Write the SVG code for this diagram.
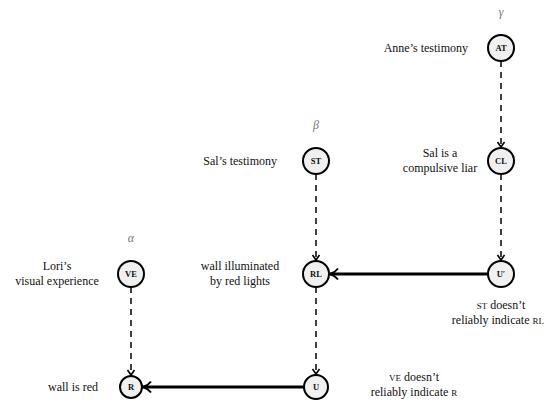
<svg xmlns="http://www.w3.org/2000/svg" width="546" height="404" viewBox="0 0 546 404" font-family="'Liberation Serif', serif">
<style>
text{font-family:'Liberation Serif',serif;fill:#111}
.lbl{font-size:12px}
.nd circle{fill:#f0f0f0;stroke:#000;stroke-width:2}
.nt{font-size:8.5px;font-weight:bold;text-anchor:middle}
.gk{font-size:12px;font-style:italic;fill:#777;text-anchor:middle}
.dash{stroke:#000;stroke-width:1.5;stroke-dasharray:6 5;fill:none}
.solid{stroke:#000;stroke-width:3;fill:none}
.sc{font-size:9px}
</style>
<defs>
<marker id="ah" markerWidth="10" markerHeight="10" refX="6" refY="5" orient="auto" markerUnits="userSpaceOnUse">
<path d="M1,1.5 L6,5 L1,8.5" fill="none" stroke="#000" stroke-width="1.6"/>
</marker>
<marker id="ahs" markerWidth="14" markerHeight="14" refX="10" refY="7" orient="auto" markerUnits="userSpaceOnUse">
<path d="M2,1.5 Q5,5.5 10,7 Q5,8.5 2,12.5" fill="none" stroke="#000" stroke-width="2"/>
</marker>
</defs>
<text class="gk" x="501" y="16">γ</text>
<text class="gk" x="316" y="129">β</text>
<text class="gk" x="131" y="242">α</text>
<g id="connectors">
<line class="dash" x1="501" y1="61" x2="501" y2="147" marker-end="url(#ah)"/>
<line class="dash" x1="501" y1="174" x2="501" y2="260" marker-end="url(#ah)"/>
<line class="dash" x1="316" y1="174" x2="316" y2="260" marker-end="url(#ah)"/>
<line class="dash" x1="316" y1="287" x2="316" y2="374" marker-end="url(#ah)"/>
<line class="dash" x1="131" y1="287" x2="131" y2="375" marker-end="url(#ah)"/>
<line class="solid" x1="488" y1="274" x2="330" y2="274" marker-end="url(#ahs)"/>
<line class="solid" x1="304" y1="387" x2="143" y2="387" marker-end="url(#ahs)"/>
</g>
<g id="AT" class="nd"><circle cx="501" cy="48" r="13"/><text class="nt" x="501" y="51">AT</text></g>
<g id="CL" class="nd"><circle cx="501" cy="161" r="13"/><text class="nt" x="501" y="164">CL</text></g>
<g id="Uprime" class="nd"><circle cx="501" cy="274" r="13"/><text class="nt" x="501" y="277">U′</text></g>
<g id="ST" class="nd"><circle cx="316" cy="161" r="13"/><text class="nt" x="316" y="164">ST</text></g>
<g id="RL" class="nd"><circle cx="316" cy="274" r="13"/><text class="nt" x="316" y="277">RL</text></g>
<g id="U" class="nd"><circle cx="316" cy="387" r="12"/><text class="nt" x="316" y="390">U</text></g>
<g id="VE" class="nd"><circle cx="131" cy="274" r="13"/><text class="nt" x="131" y="277">VE</text></g>
<g id="R" class="nd"><circle cx="131" cy="387" r="11"/><text class="nt" x="131" y="390">R</text></g>
<text class="lbl" x="468" y="52" text-anchor="end">Anne’s testimony</text>
<text class="lbl" x="440" y="157" text-anchor="middle">Sal is a</text>
<text class="lbl" x="440" y="172" text-anchor="middle">compulsive liar</text>
<text class="lbl" x="277" y="165" text-anchor="end">Sal’s testimony</text>
<text class="lbl" x="240" y="270" text-anchor="middle">wall illuminated</text>
<text class="lbl" x="240" y="285" text-anchor="middle">by red lights</text>
<text class="lbl" x="57" y="270" text-anchor="middle">Lori’s</text>
<text class="lbl" x="57" y="285" text-anchor="middle">visual experience</text>
<text class="lbl" x="98" y="391" text-anchor="end">wall is red</text>
<text class="lbl" x="501" y="309" text-anchor="middle"><tspan class="sc">ST</tspan> doesn’t</text>
<text class="lbl" x="544" y="324" text-anchor="end">reliably indicate <tspan class="sc">RL</tspan></text>
<text class="lbl" x="414" y="381" text-anchor="middle"><tspan class="sc">VE</tspan> doesn’t</text>
<text class="lbl" x="414" y="396" text-anchor="middle">reliably indicate <tspan class="sc">R</tspan></text>
</svg>
